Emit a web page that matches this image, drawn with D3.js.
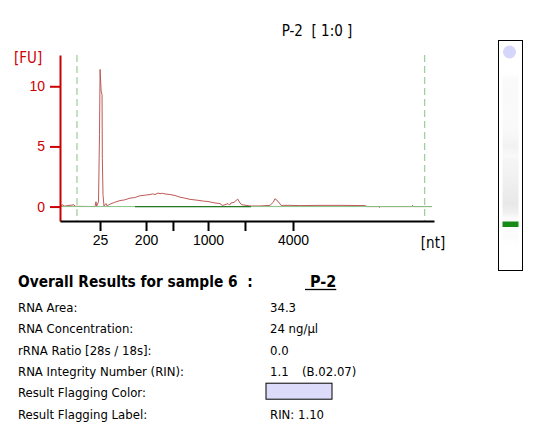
<!DOCTYPE html>
<html>
<head>
<meta charset="utf-8">
<script src="https://cdn.jsdelivr.net/npm/d3@7"></script>
<style>
  body { margin: 0; background: #fff; }
  text { font-family: "DejaVu Sans Condensed", "DejaVu Sans", sans-serif; font-stretch: condensed; white-space: pre; }
</style>
</head>
<body>
<svg id="chart"></svg>
<script>
// electropherogram trace: migration time (s) and fluorescence (FU)
const traceTime = [19.00, 19.40, 19.50, 20.87, 21.00, 23.68, 23.81, 23.90, 24.15, 24.28, 24.36, 24.45,
  24.50, 24.62, 24.66, 24.75, 24.88, 25.15, 25.30, 25.42, 25.68, 26.30, 27.02, 27.60, 28.36, 29.00,
  29.70, 30.40, 31.03, 31.40, 31.70, 32.10, 32.37, 32.70, 33.04, 33.71, 34.37, 35.04, 35.70, 36.38,
  37.05, 37.72, 38.20, 38.79, 39.30, 39.72, 40.39, 40.70, 41.06, 41.46, 41.66, 41.86, 42.26, 42.76,
  43.06, 43.33, 44.40, 45.74, 47.07, 47.50, 47.74, 48.14, 48.55, 49.75, 51.09, 53.76, 56.43, 59.78,
  60.04, 61.65, 61.72, 61.80, 66.06, 66.12, 66.19, 68.73];
const traceFU = [0.05, 0.15, 0.03, 0.15, 0.02, 0.00, 0.40, 0.02, 0.40, 6.00, 11.40, 10.20,
  9.60, 9.30, 4.00, 1.00, 0.05, 0.25, 0.05, 0.10, 0.20, 0.35, 0.50, 0.55, 0.70, 0.75,
  0.90, 0.95, 1.00, 1.05, 1.00, 1.12, 1.08, 1.10, 1.05, 1.00, 0.92, 0.78, 0.70, 0.60,
  0.55, 0.50, 0.45, 0.42, 0.35, 0.30, 0.25, 0.10, 0.15, 0.25, 0.12, 0.30, 0.35, 0.62,
  0.30, 0.15, 0.05, 0.05, 0.10, 0.35, 0.65, 0.45, 0.10, 0.10, 0.08, 0.10, 0.10, 0.08,
  0.00, 0.00, -0.08, 0.00, 0.00, 0.10, 0.00, 0.00];

// ladder sizes and their migration times
const ladderNt = [25, 200, 500, 1000, 2000, 4000];
const ladderTime = [24.35, 30.50, 34.10, 38.79, 43.73, 50.15];
const labelledNt = [25, 200, 1000, 4000];
const markerTime = [21.27, 67.76];
const baselineSpan = [19.0, 68.73];
const integrationSpan = [29.03, 44.53];
const fuTicks = [0, 5, 10];

// result table
const resultLabels = ["RNA Area:", "RNA Concentration:", "rRNA Ratio [28s / 18s]:",
  "RNA Integrity Number (RIN):", "Result Flagging Color:", "Result Flagging Label:"];
const resultValues = ["34.3", "24 ng/µl", "0.0", "1.1", "", "RIN: 1.10"];
const rinVersion = "(B.02.07)";
const sampleName = "P-2";
const sampleNumber = 6;

// gel lane: relative migration position (0 top .. 1 bottom) and grey intensity
const gelPos = [0.14, 0.17, 0.24, 0.32, 0.39, 0.46, 0.50, 0.53, 0.58, 0.65, 0.71, 0.75, 0.77, 0.80, 0.85, 0.89];
const gelGrey = [0.00, 0.04, 0.05, 0.04, 0.05, 0.10, 0.05, 0.09, 0.10, 0.14, 0.18, 0.11, 0.04, 0.00, 0.03, 0.00];
const gelTopSpot = 0.05;
const gelMarker = 0.80;

const width = 542, height = 444;
const svg = d3.select("#chart").attr("width", width).attr("height", height);
svg.append("rect").attr("width", width).attr("height", height).attr("fill", "#fff");

const x = d3.scaleLinear().domain([19, 69]).range([60, 434]);
const y = d3.scaleLinear().domain([-1.2, 12.6]).range([221, 55]);

const red = "#cc0000", lightGreen = "#86c386", darkGreen = "#237a23", traceColor = "#bd5a56";

// title
svg.append("text")
   .attr("x", 317).attr("y", 36)
   .attr("text-anchor", "middle")
   .attr("font-size", 15)
   .text(`${sampleName}  [ 1:0 ]`);

// marker lines
svg.selectAll(".marker")
   .data(markerTime)
   .enter()
   .append("line")
   .attr("x1", d => x(d)).attr("x2", d => x(d))
   .attr("y1", y(12.6)).attr("y2", y(-1.2))
   .attr("stroke", lightGreen)
   .attr("stroke-dasharray", "7,4");

// trace
const line = d3.line().x((d, i) => x(traceTime[i])).y(d => y(d));
svg.append("path")
   .attr("d", line(traceFU))
   .attr("fill", "none")
   .attr("stroke", traceColor)
   .attr("stroke-width", 1);

// baselines
svg.append("line")
   .attr("x1", x(baselineSpan[0])).attr("x2", x(baselineSpan[1]))
   .attr("y1", y(0)).attr("y2", y(0))
   .attr("stroke", lightGreen);
svg.append("line")
   .attr("x1", x(integrationSpan[0])).attr("x2", x(integrationSpan[1]))
   .attr("y1", y(0)).attr("y2", y(0))
   .attr("stroke", darkGreen).attr("stroke-width", 1.2);

// y axis
const yAxis = svg.append("g")
   .attr("transform", `translate(${x(19)},0)`)
   .call(d3.axisLeft(y).tickValues(fuTicks).tickSize(10).tickPadding(5).tickSizeOuter(0));
yAxis.select(".domain").attr("stroke", red).attr("stroke-width", 2);
yAxis.selectAll(".tick line").attr("stroke", red).attr("stroke-width", 2);
yAxis.selectAll(".tick text").attr("fill", red).attr("font-size", 14)
   .style("font-family", "inherit");
svg.append("text")
   .attr("x", 14).attr("y", 63)
   .attr("fill", red).attr("font-size", 15)
   .text("[FU]");

// x axis with ladder ticks
const xAxis = svg.append("g")
   .attr("transform", `translate(0,${y(-1.2)})`)
   .call(d3.axisBottom(x).tickValues(ladderTime).tickSize(10).tickPadding(4).tickSizeOuter(0)
     .tickFormat((d, i) => labelledNt.includes(ladderNt[i]) ? ladderNt[i] : ""));
xAxis.select(".domain").attr("stroke", "#000").attr("stroke-width", 2);
xAxis.selectAll(".tick line").attr("stroke", "#000").attr("stroke-width", 2);
xAxis.selectAll(".tick text").attr("fill", "#000").attr("font-size", 14)
   .style("font-family", "inherit");
svg.append("text")
   .attr("x", 433).attr("y", 248)
   .attr("text-anchor", "middle")
   .attr("font-size", 15)
   .text("[nt]");

// gel lane
const laneX = 498.5, laneW = 24, laneTop = 40.5, laneBottom = 270.5;
const lane = d3.scaleLinear().domain([0, 1]).range([laneTop, laneBottom]);
const defs = svg.append("defs");
const grad = defs.append("linearGradient")
   .attr("id", "gelGrad")
   .attr("gradientUnits", "userSpaceOnUse")
   .attr("x1", 0).attr("x2", 0)
   .attr("y1", lane(0)).attr("y2", lane(1));
grad.selectAll("stop")
   .data(gelPos)
   .enter()
   .append("stop")
   .attr("offset", d => d)
   .attr("stop-color", (d, i) => d3.interpolateRgb("#ffffff", "#808080")(gelGrey[i]));
svg.append("rect")
   .attr("x", laneX + 4).attr("width", laneW - 8)
   .attr("y", lane(gelPos[0])).attr("height", lane(gelPos[gelPos.length - 1]) - lane(gelPos[0]))
   .attr("fill", "url(#gelGrad)");
svg.append("circle")
   .attr("cx", laneX + laneW / 2 - 1).attr("cy", lane(gelTopSpot))
   .attr("r", 6.5)
   .attr("fill", "#d6d6fa");
svg.append("rect")
   .attr("x", laneX + 4).attr("width", laneW - 8)
   .attr("y", lane(gelMarker) - 3).attr("height", 5.5)
   .attr("fill", "#178a17");
svg.append("rect")
   .attr("x", laneX).attr("y", laneTop)
   .attr("width", laneW).attr("height", laneBottom - laneTop)
   .attr("fill", "none")
   .attr("stroke", "#000");

// results
svg.append("text")
   .attr("x", 18).attr("y", 287)
   .attr("font-size", 15.3).attr("font-weight", "bold")
   .text(`Overall Results for sample ${sampleNumber}  :`);
const nameText = svg.append("text")
   .attr("x", 310).attr("y", 287)
   .attr("font-size", 16).attr("font-weight", "bold")
   .text(sampleName);
const nameLen = nameText.node().getComputedTextLength();
svg.append("line")
   .attr("x1", 305).attr("x2", 310 + nameLen)
   .attr("y1", 289.5).attr("y2", 289.5)
   .attr("stroke", "#000").attr("stroke-width", 1.3);

const row = d3.scaleLinear().domain([0, resultLabels.length - 1]).range([312, 418.5]);
svg.selectAll(".rlabel")
   .data(resultLabels)
   .enter()
   .append("text")
   .attr("x", 18).attr("y", (d, i) => row(i))
   .attr("font-size", 13)
   .text(d => d);
svg.selectAll(".rvalue")
   .data(resultValues)
   .enter()
   .append("text")
   .attr("x", 270).attr("y", (d, i) => row(i))
   .attr("font-size", 13)
   .text(d => d);
svg.append("text")
   .attr("x", 302).attr("y", row(3))
   .attr("font-size", 13)
   .text(rinVersion);
svg.append("rect")
   .attr("x", 266).attr("y", row(4) - 14)
   .attr("width", 66).attr("height", 16)
   .attr("fill", "#dcdcfa")
   .attr("stroke", "#000");
</script>
</body>
</html>
